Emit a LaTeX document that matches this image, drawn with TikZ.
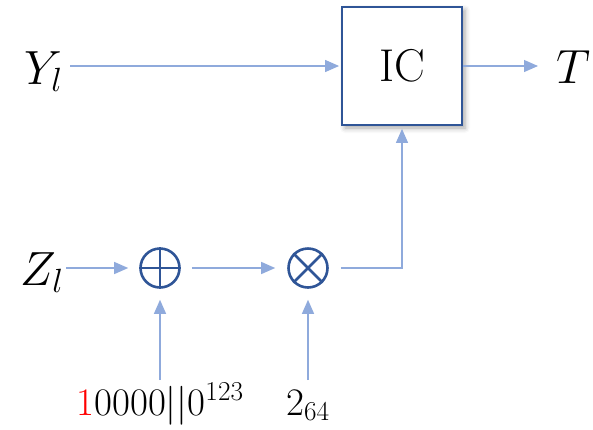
\RequirePackage{fix-cm}
\documentclass[tikz,border=0pt]{standalone}
\usetikzlibrary{arrows.meta,shadows.blur,calc}
\definecolor{dblue}{HTML}{2F5597}
\definecolor{lblue}{HTML}{8FAADC}
\begin{document}
\begin{tikzpicture}[x=1pt,y=-1pt,
  conn/.style={draw=lblue, line width=1.2pt, -{Triangle[length=14pt,width=12pt]}},
  opnode/.style={circle, draw=dblue, line width=2.6pt, minimum size=39pt, inner sep=0pt},
  opline/.style={draw=dblue, line width=2.6pt},
  big/.style={font=\fontsize{48}{50}\selectfont, inner sep=0pt},
  small/.style={font=\fontsize{39}{40}\selectfont, inner sep=0pt}]
\useasboundingbox (0,0) rectangle (593,429);

\node[draw=dblue, line width=1.8pt, minimum width=120pt, minimum height=118pt, fill=white,
  blur shadow={shadow xshift=3pt, shadow yshift=-3pt, shadow blur radius=5pt, shadow opacity=35},
  font=\fontsize{46}{48}\selectfont] (ic) at (402,66) {IC};

\node[big, anchor=base west] (yl) at (24,84) {$Y_l$};
\node[big, anchor=base west] (zl) at (20,285) {$Z_l$};
\node[big, anchor=base west] (t) at (556,83) {$T$};

\node[opnode] (op) at (160,268) {};
\draw[opline] (op.north) -- (op.south) (op.west) -- (op.east);
\node[opnode] (ot) at (308,268) {};
\draw[opline] (ot.north east) -- (ot.south west) (ot.north west) -- (ot.south east);

\node[small, anchor=base] (c) at (160,415) {\textcolor{red}{1}0000$||$0\textsuperscript{123}};
\node[small, anchor=base west] (two) at (286,415) {$2_{64}$};

\coordinate (ylend) at (70,66);
\coordinate (zlend) at (66,268);
\coordinate (tend) at (538,66);
\coordinate (cstart) at (160,380);
\coordinate (tstart) at (308,380);

\draw[conn] (ylend) -- ($(ic.west)+(-2,0)$);
\draw[conn] (ic.east) -- (tend);
\draw[conn] (zlend) -- ($(op.west)+(-11,0)$);
\draw[conn] ($(op.east)+(11,0)$) -- ($(ot.west)+(-12,0)$);
\draw[conn] ($(ot.east)+(12,0)$) -| ($(ic.south)+(0,3)$);
\draw[conn] (cstart) -- ($(op.south)+(0,11)$);
\draw[conn] (tstart) -- ($(ot.south)+(0,11)$);
\end{tikzpicture}
\end{document}
